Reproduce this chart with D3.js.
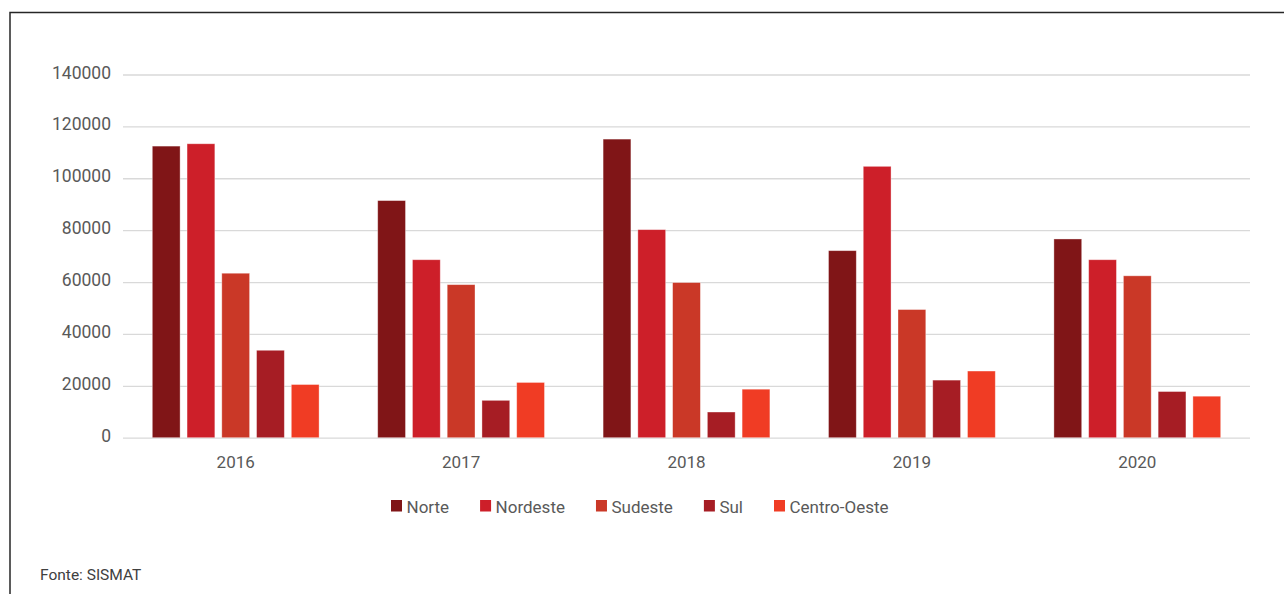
<!DOCTYPE html>
<html>
<head>
<meta charset="utf-8">
<script src="https://cdn.jsdelivr.net/npm/d3@7"></script>
<style>
  html, body { margin: 0; padding: 0; background: #fff; }
  svg { display: block; }
  text { font-family: Roboto, "Open Sans", sans-serif; }
</style>
</head>
<body>
<svg id="chart" width="1284" height="594"></svg>
<script>
// Matrículas por região, 2016–2020
const years = ["2016", "2017", "2018", "2019", "2020"];
const regions = ["Norte", "Nordeste", "Sudeste", "Sul", "Centro-Oeste"];
const norte = [112400, 91400, 115100, 72100, 76600];
const nordeste = [113300, 68600, 80200, 104600, 68600];
const sudeste = [63400, 59000, 59800, 49400, 62400];
const sul = [33700, 14400, 9900, 22200, 17800];
const centroOeste = [20500, 21300, 18700, 25700, 16000];
const regionColors = ["#801517", "#cd1f29", "#ca3827", "#a61d24", "#f03c24"];
const yTicks = [0, 20000, 40000, 60000, 80000, 100000, 120000, 140000];
const sourceNote = "Fonte: SISMAT";

const seriesValues = [norte, nordeste, sudeste, sul, centroOeste];
const rows = years.map((y, i) => ({
  year: y,
  values: regions.map((r, j) => ({ region: r, value: seriesValues[j][i] }))
}));

const svg = d3.select("#chart");

// Frame lines (left and top)
svg.append("path")
  .attr("d", "M10,594V12.5H1284")
  .attr("fill", "none")
  .attr("stroke", "#262626")
  .attr("stroke-width", 1.5);

const plot = { left: 123, right: 1250, top: 74.5, bottom: 437.7 };

const x0 = d3.scaleBand()
  .domain(years)
  .range([plot.left, plot.right])
  .paddingInner(0.26)
  .paddingOuter(0.13);

const x1 = d3.scaleBand()
  .domain(regions)
  .range([0, x0.bandwidth()])
  .paddingInner(0.2);

const y = d3.scaleLinear()
  .domain([0, 140000])
  .range([plot.bottom, plot.top]);

const color = d3.scaleOrdinal().domain(regions).range(regionColors);

// Gridlines and y labels
const yAxis = d3.axisLeft(y)
  .tickValues(yTicks)
  .tickFormat(d3.format("d"))
  .tickSize(-(plot.right - plot.left))
  .tickPadding(12);

const gy = svg.append("g")
  .attr("transform", `translate(${plot.left},0)`)
  .call(yAxis);
gy.select(".domain").remove();
gy.selectAll(".tick line")
  .attr("stroke", "#d9d9d9")
  .attr("stroke-width", 1.3);
gy.selectAll(".tick text")
  .attr("fill", "#595959")
  .attr("font-size", 17.5)
  .attr("dy", "0.2em");

// Bars
const groups = svg.append("g")
  .selectAll("g")
  .data(rows)
  .join("g")
  .attr("transform", d => `translate(${x0(d.year)},0)`);

groups.selectAll("rect")
  .data(d => d.values)
  .join("rect")
  .attr("x", d => x1(d.region))
  .attr("width", x1.bandwidth())
  .attr("y", d => y(d.value))
  .attr("height", d => y(0) - y(d.value))
  .attr("fill", d => color(d.region))
  .attr("stroke", "rgba(255,255,255,0.45)")
  .attr("stroke-width", 0.8);

// Category labels
const xAxis = d3.axisBottom(x0).tickSize(0).tickPadding(18);
const gx = svg.append("g")
  .attr("transform", `translate(0,${plot.bottom})`)
  .call(xAxis);
gx.select(".domain").remove();
gx.selectAll(".tick text")
  .attr("fill", "#595959")
  .attr("font-size", 17);

// Legend
const legend = svg.append("g").attr("transform", "translate(391,500)");
let lx = 0;
regions.forEach((r) => {
  const item = legend.append("g").attr("transform", `translate(${lx},0)`);
  item.append("rect")
    .attr("width", 11)
    .attr("height", 11.5)
    .attr("fill", color(r));
  const t = item.append("text")
    .attr("x", 15.5)
    .attr("y", 12.5)
    .attr("fill", "#595959")
    .attr("font-size", 17)
    .text(r);
  lx += 15.5 + t.node().getComputedTextLength() + 31;
});

// Source note
svg.append("text")
  .attr("x", 40)
  .attr("y", 579.5)
  .attr("fill", "#404040")
  .attr("font-size", 15.5)
  .text(sourceNote);
</script>
</body>
</html>
